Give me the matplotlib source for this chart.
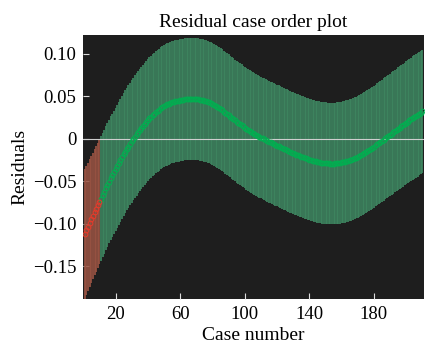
import numpy as np
import matplotlib
matplotlib.use("Agg")
import matplotlib.pyplot as plt

# residuals, case 1..210
residuals = [
    -0.1120, -0.1076, -0.1033, -0.0990, -0.0948, -0.0906, -0.0864, -0.0823, -0.0782, -0.0742,
    -0.0702, -0.0662, -0.0622, -0.0582, -0.0542, -0.0502, -0.0462, -0.0427, -0.0392, -0.0357,
    -0.0322, -0.0287, -0.0252, -0.0217, -0.0182, -0.0151, -0.0121, -0.0091, -0.0061, -0.0031,
    -0.0002, 0.0026, 0.0053, 0.0080, 0.0106, 0.0131, 0.0155, 0.0178, 0.0200, 0.0221,
    0.0241, 0.0260, 0.0278, 0.0296, 0.0313, 0.0329, 0.0344, 0.0358, 0.0371, 0.0383,
    0.0394, 0.0404, 0.0413, 0.0421, 0.0428, 0.0434, 0.0440, 0.0445, 0.0450, 0.0454,
    0.0458, 0.0461, 0.0464, 0.0466, 0.0468, 0.0469, 0.0470, 0.0470, 0.0469, 0.0467,
    0.0465, 0.0462, 0.0458, 0.0454, 0.0449, 0.0443, 0.0436, 0.0428, 0.0419, 0.0409,
    0.0398, 0.0387, 0.0375, 0.0362, 0.0349, 0.0335, 0.0321, 0.0307, 0.0292, 0.0277,
    0.0262, 0.0247, 0.0232, 0.0217, 0.0202, 0.0188, 0.0174, 0.0160, 0.0146, 0.0133,
    0.0120, 0.0107, 0.0095, 0.0083, 0.0071, 0.0059, 0.0048, 0.0037, 0.0026, 0.0015,
    0.0005, -0.0005, -0.0015, -0.0025, -0.0034, -0.0043, -0.0052, -0.0061, -0.0070, -0.0079,
    -0.0088, -0.0097, -0.0106, -0.0115, -0.0125, -0.0134, -0.0143, -0.0152, -0.0161, -0.0169,
    -0.0177, -0.0185, -0.0193, -0.0201, -0.0209, -0.0217, -0.0224, -0.0231, -0.0238, -0.0244,
    -0.0250, -0.0256, -0.0261, -0.0266, -0.0271, -0.0275, -0.0279, -0.0282, -0.0285, -0.0287,
    -0.0289, -0.0290, -0.0291, -0.0291, -0.0291, -0.0290, -0.0288, -0.0285, -0.0282, -0.0278,
    -0.0274, -0.0269, -0.0264, -0.0258, -0.0252, -0.0245, -0.0237, -0.0229, -0.0220, -0.0211,
    -0.0201, -0.0191, -0.0180, -0.0169, -0.0157, -0.0145, -0.0132, -0.0119, -0.0106, -0.0092,
    -0.0078, -0.0064, -0.0050, -0.0036, -0.0022, -0.0008, 0.0006, 0.0020, 0.0034, 0.0048,
    0.0062, 0.0076, 0.0090, 0.0104, 0.0118, 0.0132, 0.0146, 0.0160, 0.0174, 0.0188,
    0.0202, 0.0216, 0.0230, 0.0244, 0.0257, 0.0270, 0.0283, 0.0296, 0.0309, 0.0322,
]

# half width of each confidence interval
half_width = [
    0.0760, 0.0757, 0.0754, 0.0751, 0.0748, 0.0745, 0.0742, 0.0739, 0.0736, 0.0733,
    0.0730, 0.0729, 0.0728, 0.0728, 0.0727, 0.0726, 0.0726, 0.0725, 0.0725, 0.0724,
    0.0724, 0.0723, 0.0723, 0.0722, 0.0722, 0.0722, 0.0721, 0.0721, 0.0721, 0.0720,
    0.0720, 0.0720, 0.0720, 0.0719, 0.0719, 0.0719, 0.0719, 0.0719, 0.0718, 0.0718,
    0.0718, 0.0718, 0.0718, 0.0718, 0.0718, 0.0718, 0.0718, 0.0718, 0.0718, 0.0718,
    0.0718, 0.0718, 0.0718, 0.0717, 0.0717, 0.0717, 0.0717, 0.0717, 0.0717, 0.0717,
    0.0717, 0.0717, 0.0717, 0.0717, 0.0717, 0.0717, 0.0717, 0.0717, 0.0717, 0.0717,
    0.0717, 0.0717, 0.0717, 0.0717, 0.0717, 0.0716, 0.0716, 0.0716, 0.0716, 0.0716,
    0.0716, 0.0716, 0.0716, 0.0716, 0.0716, 0.0716, 0.0716, 0.0716, 0.0716, 0.0716,
    0.0716, 0.0716, 0.0716, 0.0716, 0.0716, 0.0716, 0.0716, 0.0716, 0.0716, 0.0716,
    0.0716, 0.0716, 0.0716, 0.0716, 0.0716, 0.0716, 0.0716, 0.0716, 0.0716, 0.0716,
    0.0716, 0.0716, 0.0716, 0.0716, 0.0716, 0.0716, 0.0716, 0.0716, 0.0716, 0.0716,
    0.0716, 0.0716, 0.0716, 0.0716, 0.0716, 0.0716, 0.0716, 0.0716, 0.0716, 0.0716,
    0.0716, 0.0716, 0.0716, 0.0716, 0.0716, 0.0716, 0.0716, 0.0716, 0.0716, 0.0716,
    0.0716, 0.0716, 0.0716, 0.0716, 0.0716, 0.0716, 0.0716, 0.0716, 0.0716, 0.0716,
    0.0716, 0.0716, 0.0716, 0.0716, 0.0716, 0.0716, 0.0716, 0.0716, 0.0716, 0.0716,
    0.0716, 0.0716, 0.0716, 0.0716, 0.0716, 0.0716, 0.0716, 0.0716, 0.0716, 0.0716,
    0.0716, 0.0716, 0.0716, 0.0716, 0.0716, 0.0717, 0.0717, 0.0717, 0.0717, 0.0717,
    0.0717, 0.0717, 0.0718, 0.0718, 0.0718, 0.0718, 0.0719, 0.0719, 0.0719, 0.0719,
    0.0720, 0.0720, 0.0720, 0.0721, 0.0721, 0.0721, 0.0722, 0.0722, 0.0722, 0.0723,
    0.0723, 0.0724, 0.0724, 0.0725, 0.0725, 0.0726, 0.0726, 0.0727, 0.0728, 0.0728,
]

xtick_vals = [20, 60, 100, 140, 180]
ytick_vals = [0.10, 0.05, 0, -0.05, -0.10, -0.15]
ytick_labels = ["0.10", "0.05", "0", "\u22120.05", "\u22120.10", "\u22120.15"]

r = np.array(residuals)
hw = np.array(half_width)
case = np.arange(1, len(r) + 1)
lo = r - hw
hi = r + hw
outlier = (lo > 0) | (hi < 0)
ok = ~outlier

plt.rcParams['font.family'] = ['Liberation Serif', 'DejaVu Serif']

fig = plt.figure(figsize=(4.27, 3.51), dpi=100)
ax = fig.add_axes([0.195, 0.149, 0.798, 0.751])
ax.set_facecolor('#1e1e1e')

ax.vlines(case[ok], lo[ok], hi[ok], colors='#3e8560', linewidth=1.25)
ax.vlines(case[outlier], lo[outlier], hi[outlier], colors='#985242', linewidth=1.25)
ax.axhline(0, color='#cfcfcf', linewidth=0.8)
ax.plot(case[ok], r[ok], 'o', mfc='none', mec='#00b050', ms=3.4, mew=0.7)
ax.plot(case[outlier], r[outlier], 'o', mfc='none', mec='#e83a2a', ms=3.4, mew=0.7)

ax.set_xlim(0, len(r) + 1)
ax.set_ylim(-0.188, 0.122)
ax.set_xticks(xtick_vals)
ax.set_yticks(ytick_vals)
ax.set_yticklabels(ytick_labels)
ax.tick_params(direction='in', length=4, color='#dddddd', labelsize=13.5, pad=5)
for s in ax.spines.values():
    s.set_visible(False)

ax.set_title("Residual case order plot", fontsize=14, pad=6)
ax.set_xlabel("Case number", fontsize=14, labelpad=3)
ax.set_ylabel("Residuals", fontsize=14, labelpad=3)

fig.savefig("out.png", dpi=100)
